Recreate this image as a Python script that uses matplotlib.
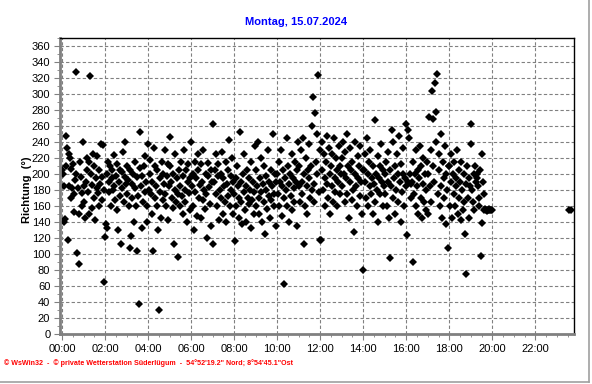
import numpy as np
import matplotlib.pyplot as plt
from matplotlib.lines import Line2D
from matplotlib.ticker import MultipleLocator

# wind direction, one value every 2 minutes from 00:00 (one row per hour)
richtung = [
    205, 200, 185, 140, 144, 210, 247, 232, 118, 185, 225, 220, 206, 170, 183, 213, 175, 153, 192, 327, 200, 101, 183, 150, 88, 215, 196, 176, 160, 240,
    185, 165, 145, 190, 220, 205, 178, 150, 215, 322, 200, 186, 158, 225, 210, 170, 143, 195, 183, 222, 176, 160, 205, 188, 237, 168, 196, 236, 65, 180,
    121, 137, 133, 200, 215, 190, 178, 210, 160, 205, 195, 180, 224, 185, 168, 198, 212, 155, 130, 190, 205, 172, 113, 202, 183, 228, 165, 196, 240, 188,
    210, 175, 192, 160, 108, 205, 123, 188, 170, 200, 140, 215, 183, 160, 196, 104, 172, 37, 252, 208, 185, 133, 198, 165, 210, 178, 222, 190, 160, 140,
    237, 180, 200, 218, 175, 150, 190, 104, 232, 210, 170, 185, 160, 205, 130, 30, 195, 178, 145, 215, 200, 168, 188, 230, 175, 160, 198, 142, 213, 185,
    210, 246, 190, 170, 158, 200, 112, 180, 225, 165, 195, 175, 96, 205, 160, 185, 215, 172, 150, 198, 230, 180, 165, 205, 140, 190, 212, 176, 155, 195,
    240, 185, 200, 160, 130, 215, 178, 195, 148, 225, 205, 170, 186, 145, 212, 190, 168, 230, 180, 156, 200, 175, 120, 198, 214, 184, 162, 205, 135, 190,
    262, 112, 190, 205, 175, 225, 160, 198, 212, 143, 180, 200, 170, 228, 150, 195, 185, 165, 215, 140, 188, 205, 172, 242, 160, 198, 180, 220, 150, 190,
    175, 116, 195, 160, 210, 185, 145, 170, 252, 190, 165, 138, 200, 178, 225, 155, 185, 140, 205, 170, 162, 195, 180, 132, 215, 168, 190, 150, 178, 235,
    160, 205, 185, 240, 170, 150, 195, 178, 220, 140, 188, 165, 210, 125, 180, 198, 156, 230, 172, 190, 145, 205, 168, 185, 250, 175, 160, 200, 135, 190,
    200, 175, 215, 160, 190, 230, 148, 185, 205, 170, 62, 195, 180, 245, 160, 210, 188, 140, 200, 172, 225, 155, 195, 182, 165, 215, 190, 135, 205, 240,
    185, 210, 165, 230, 190, 175, 245, 112, 200, 160, 220, 185, 150, 205, 195, 238, 170, 210, 180, 260, 296, 188, 165, 276, 215, 200, 250, 324, 178, 230,
    118, 117, 205, 240, 180, 225, 195, 160, 215, 248, 188, 170, 232, 200, 150, 210, 185, 225, 165, 245, 195, 178, 220, 205, 160, 190, 235, 210, 175, 200,
    220, 185, 240, 200, 165, 228, 195, 250, 175, 210, 145, 190, 232, 205, 168, 215, 180, 128, 200, 240, 185, 160, 222, 195, 210, 172, 235, 190, 150, 205,
    80, 205, 190, 225, 170, 245, 200, 160, 215, 185, 230, 175, 195, 150, 210, 188, 267, 165, 200, 180, 222, 140, 195, 210, 175, 238, 190, 160, 205, 185,
    200, 175, 215, 160, 190, 228, 145, 205, 95, 185, 255, 170, 240, 195, 210, 150, 180, 225, 200, 165, 248, 190, 140, 212, 178, 200, 232, 160, 195, 185,
    262, 124, 255, 190, 245, 200, 188, 170, 190, 215, 90, 175, 200, 160, 230, 185, 150, 205, 195, 235, 170, 210, 145, 188, 220, 165, 200, 180, 155, 215,
    200, 150, 271, 185, 230, 165, 304, 210, 269, 190, 314, 277, 240, 325, 175, 225, 205, 160, 250, 185, 145, 215, 195, 170, 235, 200, 138, 180, 107, 210,
    210, 160, 190, 225, 145, 200, 175, 215, 160, 195, 185, 230, 150, 205, 170, 190, 142, 215, 180, 155, 200, 165, 125, 75, 188, 210, 170, 195, 145, 185,
    262, 237, 180, 165, 200, 155, 210, 190, 195, 200, 185, 170, 160, 205, 98, 139, 225, 190, 175, 155, 156, 155, 155, 154, 155, 155, 156, 155, 155, 155,
]
zeit = np.arange(len(richtung)) * 2 / 60.0

# the two values just before midnight
spaet_zeit = [23.55, 23.65]
spaet_richtung = [155, 155]

x_ticks = [0, 2, 4, 6, 8, 10, 12, 14, 16, 18, 20, 22]
x_labels = ["00:00", "02:00", "04:00", "06:00", "08:00", "10:00",
            "12:00", "14:00", "16:00", "18:00", "20:00", "22:00"]

plt.rcParams['font.family'] = ['Liberation Sans', 'DejaVu Sans']

fig = plt.figure(figsize=(5.92, 3.84), dpi=100)
ax = fig.add_axes([60 / 592, 1 - 334 / 384, 514 / 592, 296 / 384])

ax.plot(zeit, richtung, 'D', color='black', markersize=3.8, markeredgewidth=0)
ax.plot(spaet_zeit, spaet_richtung, 'D', color='black', markersize=3.8, markeredgewidth=0)

ax.set_xlim(-0.1, 23.8)
ax.set_ylim(0, 370)
ax.set_xticks(x_ticks)
ax.set_xticklabels(x_labels)
ax.set_yticks(range(0, 361, 20))
ax.xaxis.set_minor_locator(MultipleLocator(0.5))
ax.yaxis.set_minor_locator(MultipleLocator(10))
ax.tick_params(which='major', length=4, color='#808080', labelsize=8, pad=3)
ax.tick_params(which='minor', length=2, color='#808080')

ax.grid(True, which='major', color='#808080', linestyle=(0, (3, 2)), linewidth=0.8)
ax.set_axisbelow(True)

for s in ['left', 'bottom']:
    ax.spines[s].set_color('#808080')
    ax.spines[s].set_linewidth(2)
for s in ['top', 'right']:
    ax.spines[s].set_color('black')
    ax.spines[s].set_linewidth(1)

fig.text(296 / 592, 1 - 22 / 384, "Montag, 15.07.2024", color='#0000ff',
         fontsize=8, fontweight='bold', ha='center', va='center')
fig.text(27 / 592, 1 - 190 / 384, "Richtung  (°)", rotation=90,
         fontsize=8, fontweight='bold', ha='center', va='center')
fig.text(4 / 592, 1 - 363 / 384,
         "© WsWin32  -  © private Wetterstation Süderlügum  -  54°52'19.2\" Nord; 8°54'45.1\"Ost",
         color='red', fontsize=5.1, fontweight='bold', ha='left', va='center')

# grey frame on the right and bottom
fig.add_artist(Line2D([589 / 592, 589 / 592], [1 - 382 / 384, 1], color='#a0a0a0', linewidth=1.2))
fig.add_artist(Line2D([0, 589 / 592], [1 - 382 / 384, 1 - 382 / 384], color='#a0a0a0', linewidth=1.2))

fig.savefig("out.png", dpi=100)
